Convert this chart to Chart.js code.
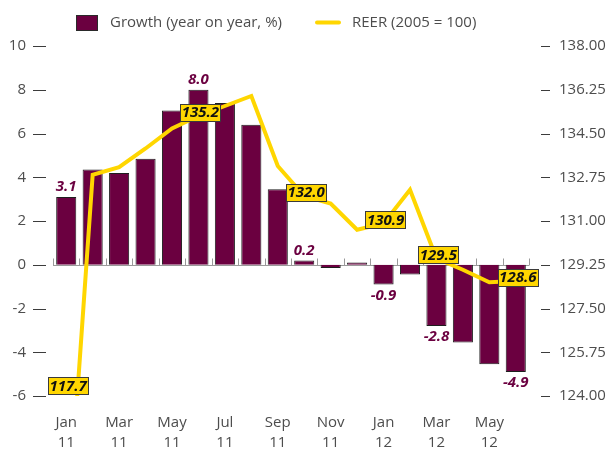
<!DOCTYPE html>
<html>
<head>
<meta charset="utf-8">
<script src="https://cdn.jsdelivr.net/npm/chart.js@4.4.1/dist/chart.umd.min.js"></script>
<style>
  html, body { margin: 0; padding: 0; background: #ffffff; }
  canvas { display: block; }
</style>
</head>
<body>
<canvas id="chart" width="608" height="450"></canvas>
<script>
// Monthly series, January 2011 – June 2012
const months = ['Jan', 'Feb', 'Mar', 'Apr', 'May', 'Jun', 'Jul', 'Aug', 'Sep', 'Oct', 'Nov', 'Dec',
                'Jan', 'Feb', 'Mar', 'Apr', 'May', 'Jun'];
const years  = ['11', '11', '11', '11', '11', '11', '11', '11', '11', '11', '11', '11',
                '12', '12', '12', '12', '12', '12'];

// Growth, year on year (%)
const growth = [3.1, 4.35, 4.2, 4.85, 7.05, 8.0, 7.4, 6.4, 3.45, 0.2, -0.15, 0.1,
                -0.9, -0.45, -2.8, -3.55, -4.55, -4.9];

// Real effective exchange rate (2005 = 100)
const reer = [117.7, 132.85, 133.15, 133.9, 134.7, 135.2, 135.6, 136.0, 133.2, 132.0, 131.7, 130.65,
              130.9, 132.25, 129.5, 129.05, 128.55, 128.6];

// Months whose values are printed on the chart
const labelledMonths = [0, 5, 9, 12, 14, 17];

// Axis ranges
const growthAxis = { min: -6, max: 10, step: 2 };
const reerAxis = { min: 124, max: 138, step: 1.75 };

const seriesNames = ['Growth (year on year, %)', 'REER (2005 = 100)'];

const MAROON = '#6b0040';
const GOLD = '#ffd600';
const FONT = "'Open Sans', 'Noto Sans', 'DejaVu Sans', sans-serif";
const TEXT = '#4d4d4d';

const categories = months.map((m, i) => [m, years[i]]);

// Zero line with short category separators, drawn under the bars
const zeroAxis = {
  id: 'zeroAxis',
  beforeDatasetsDraw(chart) {
    const { ctx, chartArea: a, scales } = chart;
    const x = scales.x, y = scales.y;
    const y0 = Math.round(y.getPixelForValue(0)) + 0.5;
    const half = (x.getPixelForValue(1) - x.getPixelForValue(0)) / 2;
    ctx.save();
    ctx.strokeStyle = '#9a9a9a';
    ctx.lineWidth = 1;
    ctx.beginPath();
    ctx.moveTo(a.left, y0);
    ctx.lineTo(a.right, y0);
    for (let i = 0; i <= categories.length; i++) {
      const px = Math.round(x.getPixelForValue(i) - half) + 0.5;
      ctx.moveTo(px, y0);
      ctx.lineTo(px, y0 - 7);
    }
    ctx.stroke();
    ctx.restore();
  }
};

// Short dashes beside the value labels of both vertical axes
const axisDashes = {
  id: 'axisDashes',
  afterDraw(chart) {
    const { ctx, scales } = chart;
    const yl = scales.y, yr = scales.yR;
    ctx.save();
    ctx.strokeStyle = '#3c3c3c';
    ctx.lineWidth = 1;
    ctx.beginPath();
    yl.ticks.forEach(t => {
      const py = Math.round(yl.getPixelForValue(t.value)) + 0.5;
      ctx.moveTo(yl.right - 20, py);
      ctx.lineTo(yl.right - 7, py);
    });
    yr.ticks.forEach(t => {
      const py = Math.round(yr.getPixelForValue(t.value)) + 0.5;
      ctx.moveTo(yr.left + 12, py);
      ctx.lineTo(yr.left + 21, py);
    });
    ctx.stroke();
    ctx.restore();
  }
};

// Value labels: italic figures beside the bars, boxed figures on the line
const valueLabels = {
  id: 'valueLabels',
  afterDatasetsDraw(chart) {
    const { ctx, chartArea: a } = chart;
    const bars = chart.getDatasetMeta(0).data;
    const pts = chart.getDatasetMeta(1).data;
    ctx.save();
    ctx.textAlign = 'center';
    ctx.textBaseline = 'middle';

    ctx.font = `italic bold 15px ${FONT}`;
    ctx.fillStyle = MAROON;
    labelledMonths.forEach(i => {
      const v = growth[i];
      const b = bars[i];
      const ty = v >= 0 ? b.y - 10 : b.y + 11;
      ctx.fillText(v.toFixed(1), b.x, ty);
    });

    ctx.font = `italic bold 15px ${FONT}`;
    labelledMonths.forEach(i => {
      const txt = reer[i].toFixed(1);
      const p = pts[i];
      const w = ctx.measureText(txt).width + 3;
      const h = 17;
      const cx = p.x + 2;
      const cy = Math.min(Math.max(p.y - 4, a.top + h / 2), a.bottom - h / 2 - 2);
      const bx = Math.round(cx - w / 2) + 0.5, by = Math.round(cy - h / 2) + 0.5;
      ctx.fillStyle = GOLD;
      ctx.fillRect(bx, by, Math.round(w), h);
      ctx.strokeStyle = '#3a3a3a';
      ctx.lineWidth = 1;
      ctx.strokeRect(bx, by, Math.round(w), h);
      ctx.fillStyle = '#111111';
      ctx.fillText(txt, cx, cy + 1);
    });
    ctx.restore();
  }
};

// Legend row across the top
const topLegend = {
  id: 'topLegend',
  afterDraw(chart) {
    const { ctx } = chart;
    ctx.save();
    ctx.font = `15px ${FONT}`;
    ctx.textBaseline = 'middle';
    ctx.textAlign = 'left';
    ctx.fillStyle = MAROON;
    ctx.fillRect(76.5, 15.5, 21, 15);
    ctx.strokeStyle = '#2a2a2a';
    ctx.lineWidth = 1;
    ctx.strokeRect(76.5, 15.5, 21, 15);
    ctx.fillStyle = TEXT;
    ctx.fillText(chart.data.datasets[0].label, 110, 23);
    ctx.strokeStyle = GOLD;
    ctx.lineWidth = 4;
    ctx.lineCap = 'round';
    ctx.beginPath();
    ctx.moveTo(317, 22.5);
    ctx.lineTo(339, 22.5);
    ctx.stroke();
    ctx.fillText(chart.data.datasets[1].label, 352, 23);
    ctx.restore();
  }
};

new Chart(document.getElementById('chart'), {
  type: 'bar',
  data: {
    labels: categories,
    datasets: [
      {
        type: 'bar',
        label: seriesNames[0],
        data: growth,
        yAxisID: 'y',
        backgroundColor: MAROON,
        borderColor: '#1e1e1e',
        borderWidth: 1,
        barPercentage: 0.76,
        categoryPercentage: 1.0,
        order: 2
      },
      {
        type: 'line',
        label: seriesNames[1],
        data: reer,
        yAxisID: 'yR',
        borderColor: GOLD,
        borderWidth: 4,
        pointRadius: 0,
        tension: 0,
        fill: false,
        order: 1
      }
    ]
  },
  options: {
    responsive: false,
    animation: false,
    devicePixelRatio: 1,
    layout: { padding: { top: 46, left: 0, right: 0, bottom: 0 } },
    plugins: {
      legend: { display: false },
      tooltip: { enabled: false },
      title: { display: false }
    },
    scales: {
      x: {
        type: 'category',
        grid: { display: false, drawTicks: false },
        border: { display: false },
        ticks: {
          autoSkip: false,
          maxRotation: 0,
          padding: 17,
          color: TEXT,
          font: { family: FONT, size: 15, lineHeight: 1.33 },
          callback: function (value, index) {
            return index % 2 === 0 ? categories[index] : '';
          }
        },
        afterFit(s) { s.height = 54; }
      },
      y: {
        position: 'left',
        min: growthAxis.min,
        max: growthAxis.max,
        grid: { display: false, drawTicks: false },
        border: { display: false },
        ticks: {
          stepSize: growthAxis.step,
          padding: 27,
          color: TEXT,
          font: { family: FONT, size: 15 }
        },
        afterFit(s) { s.width = 53; }
      },
      yR: {
        position: 'right',
        min: reerAxis.min,
        max: reerAxis.max,
        grid: { display: false, drawTicks: false },
        border: { display: false },
        ticks: {
          stepSize: reerAxis.step,
          padding: 30,
          color: TEXT,
          font: { family: FONT, size: 15 },
          callback: v => Number(v).toFixed(2)
        },
        afterFit(s) { s.width = 79; }
      }
    }
  },
  plugins: [zeroAxis, axisDashes, valueLabels, topLegend]
});
</script>
</body>
</html>
